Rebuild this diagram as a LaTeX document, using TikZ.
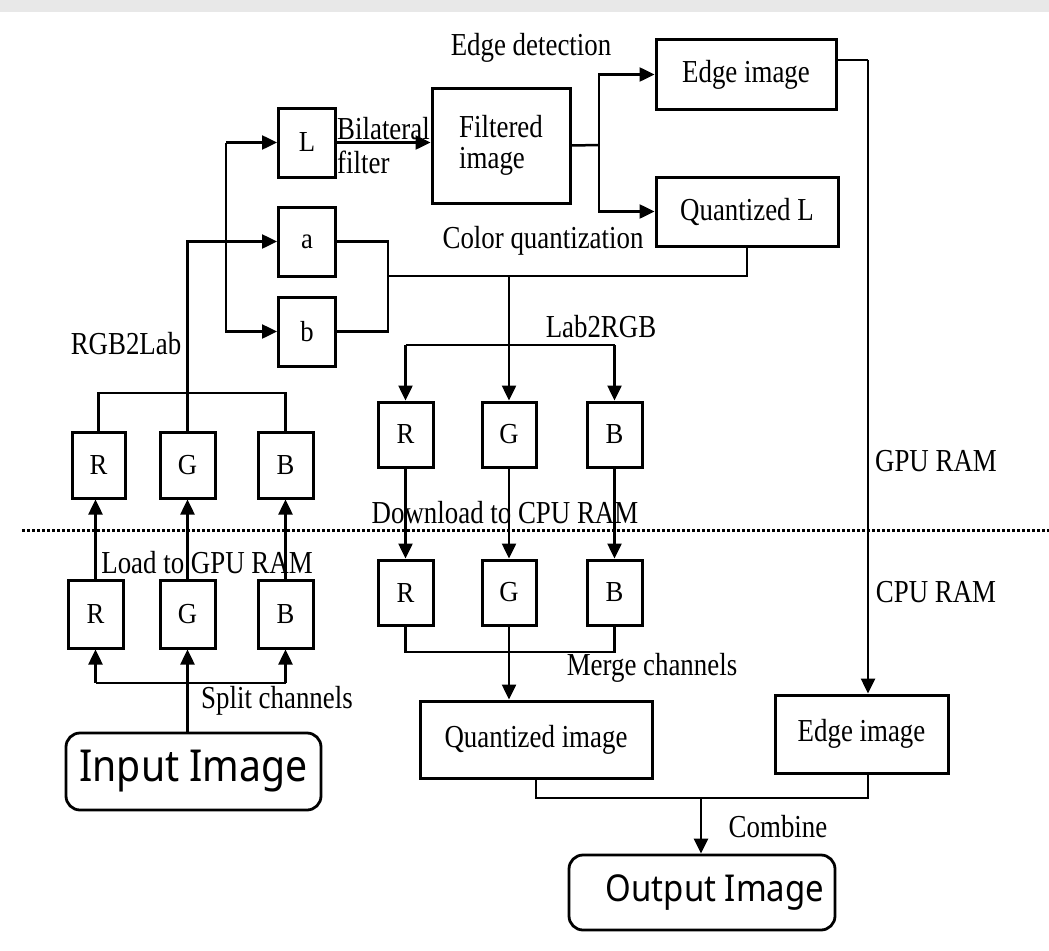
\documentclass[tikz,border=0pt]{standalone}
\usepackage{fontspec}
\usetikzlibrary{arrows.meta}
\newfontfamily\labfont[FakeStretch=0.84]{Liberation Serif}
\newfontfamily\letfont[FakeStretch=0.92]{Liberation Serif}
\newfontfamily\bigsans[FakeStretch=0.89]{Noto Sans}
\tikzset{
  box/.style={draw, line width=3pt, inner sep=0pt, font=\labfont\fontsize{32}{33}\selectfont},
  chbox/.style={box, font=\letfont\fontsize{29}{30}\selectfont},
  rbox/.style={draw, line width=2.8pt, rounded corners=14pt, inner sep=0pt},
  ln/.style={line width=2.5pt},
  arr/.style={ln, -{Triangle[length=15pt,width=14pt]}},
  lbl/.style={inner sep=0pt, font=\labfont\fontsize{32}{33}\selectfont},
  dotline/.style={line width=3pt, dash pattern=on 3pt off 2pt}
}
\begin{document}
\begin{tikzpicture}[x=1pt,y=-1pt]
\useasboundingbox (0,0) rectangle (1049,950);
\fill[black!9] (0,0) rectangle (1049,12);

% top part
\node[chbox, minimum width=57pt, minimum height=69pt] (L) at (307,142.5) {L};
\node[chbox, minimum width=57pt, minimum height=69pt] (a) at (307,241.5) {a};
\node[chbox, minimum width=57pt, minimum height=69pt] (b) at (307,331.5) {b};
\node[box, minimum width=138pt, minimum height=115pt, align=left] (filt) at (501,145.5) {Filtered\\[-2pt]image};
\node[box, minimum width=180pt, minimum height=69pt] (edgeT) at (746,74.5) {Edge image};
\node[box, minimum width=182pt, minimum height=69pt] (qL) at (747,211.5) {Quantized L};

% left columns
\node[chbox, minimum width=53pt, minimum height=66pt] (uR) at (98.5,465) {R};
\node[chbox, minimum width=55pt, minimum height=66pt] (uG) at (187.5,465) {G};
\node[chbox, minimum width=55pt, minimum height=66pt] (uB) at (285.5,465) {B};
\node[chbox, minimum width=55pt, minimum height=68pt] (lR) at (95.5,614) {R};
\node[chbox, minimum width=55pt, minimum height=68pt] (lG) at (187.5,614) {G};
\node[chbox, minimum width=55pt, minimum height=68pt] (lB) at (285.5,614) {B};

% middle columns
\node[chbox, minimum width=55pt, minimum height=65pt] (mR) at (405.5,434.5) {R};
\node[chbox, minimum width=54pt, minimum height=65pt] (mG) at (509,434.5) {G};
\node[chbox, minimum width=55pt, minimum height=65pt] (mB) at (614.5,434.5) {B};
\node[chbox, minimum width=55pt, minimum height=65pt] (nR) at (405.5,592.5) {R};
\node[chbox, minimum width=54pt, minimum height=65pt] (nG) at (509,592.5) {G};
\node[chbox, minimum width=55pt, minimum height=65pt] (nB) at (614.5,592.5) {B};

% bottom
\node[box, minimum width=232pt, minimum height=77pt] (quant) at (536,739.5) {Quantized image};
\node[box, minimum width=173pt, minimum height=78pt] (edgeB) at (861.5,734) {Edge image};
\node[rbox, minimum width=255pt, minimum height=77pt, font=\bigsans\fontsize{44}{46}\selectfont] (input) at (193.5,771.5) {Input Image};
\node[rbox, minimum width=266pt, minimum height=75pt, font=\bigsans\fontsize{37}{39}\selectfont] (output) at (702,892.5) {\hspace*{26pt}Output Image};

% labels
\node[lbl] (tED) at (531,48) {Edge detection};
\node[lbl, anchor=west] (tBil) at (337,129) {Bilateral};
\node[lbl, anchor=west] (tFil) at (337,162) {filter};
\node[lbl] (tCQ) at (543,241) {Color quantization};
\node[lbl] (tL2R) at (601,327) {Lab2RGB};
\node[lbl] (tR2L) at (126,344) {RGB2Lab};
\node[lbl] (tLoad) at (207,563) {Load to GPU RAM};
\node[lbl] (tDown) at (505,513) {Download to CPU RAM};
\node[lbl] (tMerge) at (652,668) {Merge channels};
\node[lbl] (tSplit) at (277,701) {Split channels};
\node[lbl] (tComb) at (778,827) {Combine};
\node[lbl] (tGPU) at (936,461) {GPU RAM};
\node[lbl] (tCPU) at (936,592) {CPU RAM};

% dotted boundary
\draw[dotline] (22,530) -- (1049,530);

% coordinates
\coordinate (fj) at (599,145);
\coordinate (er) at (868,60);
\coordinate (jab) at (388,276);
\coordinate (lab) at (509,345);
\coordinate (mg) at (509,652);
\coordinate (cb) at (701,798);
\coordinate (sp) at (188,683);
\coordinate (rg) at (188,393);
\coordinate (lbx) at (226,200);

% connectors top
\draw[arr] (L.east) -- (L.east -| filt.west);
\draw[ln] (filt.east) -- (fj);
\draw[arr] (fj) |- (edgeT.west);
\draw[arr] (fj) |- (qL.west);
\draw[ln] ([yshift=14.5pt]edgeT.east) -- (er);
\draw[arr] (er) -- (er |- edgeB.north);
\draw[ln] (qL.south) |- (jab);
\draw[ln] (a.east) -| (jab) |- (b.east);
\draw[arr] (mG.north |- jab) -- (mG.north);
\draw[ln] (lab -| mR.north) -- (lab -| mB.north);
\draw[arr] (lab -| mR.north) -- (mR.north);
\draw[arr] (lab -| mB.north) -- (mB.north);

% download
\draw[arr] (mR.south) -- (nR.north);
\draw[arr] (mG.south) -- (nG.north);
\draw[arr] (mB.south) -- (nB.north);

% merge
\draw[ln] (nR.south) -- (nR.south |- mg) -- (nB.south |- mg) -- (nB.south);
\draw[arr] (nG.south) -- (nG.south |- quant.north);

% combine
\draw[ln] (quant.south) -- (quant.south |- cb) -- (cb -| er) -- (er |- edgeB.south);
\draw[arr] (cb) -- (cb |- output.north);

% left side
\draw[arr] (lR.north) -- (lR.north |- uR.south);
\draw[arr] (lG.north) -- (uG.south);
\draw[arr] (lB.north) -- (uB.south);
\draw[arr] (lG.south |- input.north) -- (lG.south);
\draw[ln] (lR.south |- sp) -- (lB.south |- sp);
\draw[arr] (lR.south |- sp) -- (lR.south);
\draw[arr] (lB.south |- sp) -- (lB.south);
\draw[ln] (uR.north) -- (uR.north |- rg) -- (uB.north |- rg) -- (uB.north);
\draw[arr] (uG.north) |- (a.west);
\draw[arr] (lbx |- L.west) -- (L.west);
\draw[arr] (lbx |- L.west) -- (lbx |- b.west) -- (b.west);
\end{tikzpicture}
\end{document}
